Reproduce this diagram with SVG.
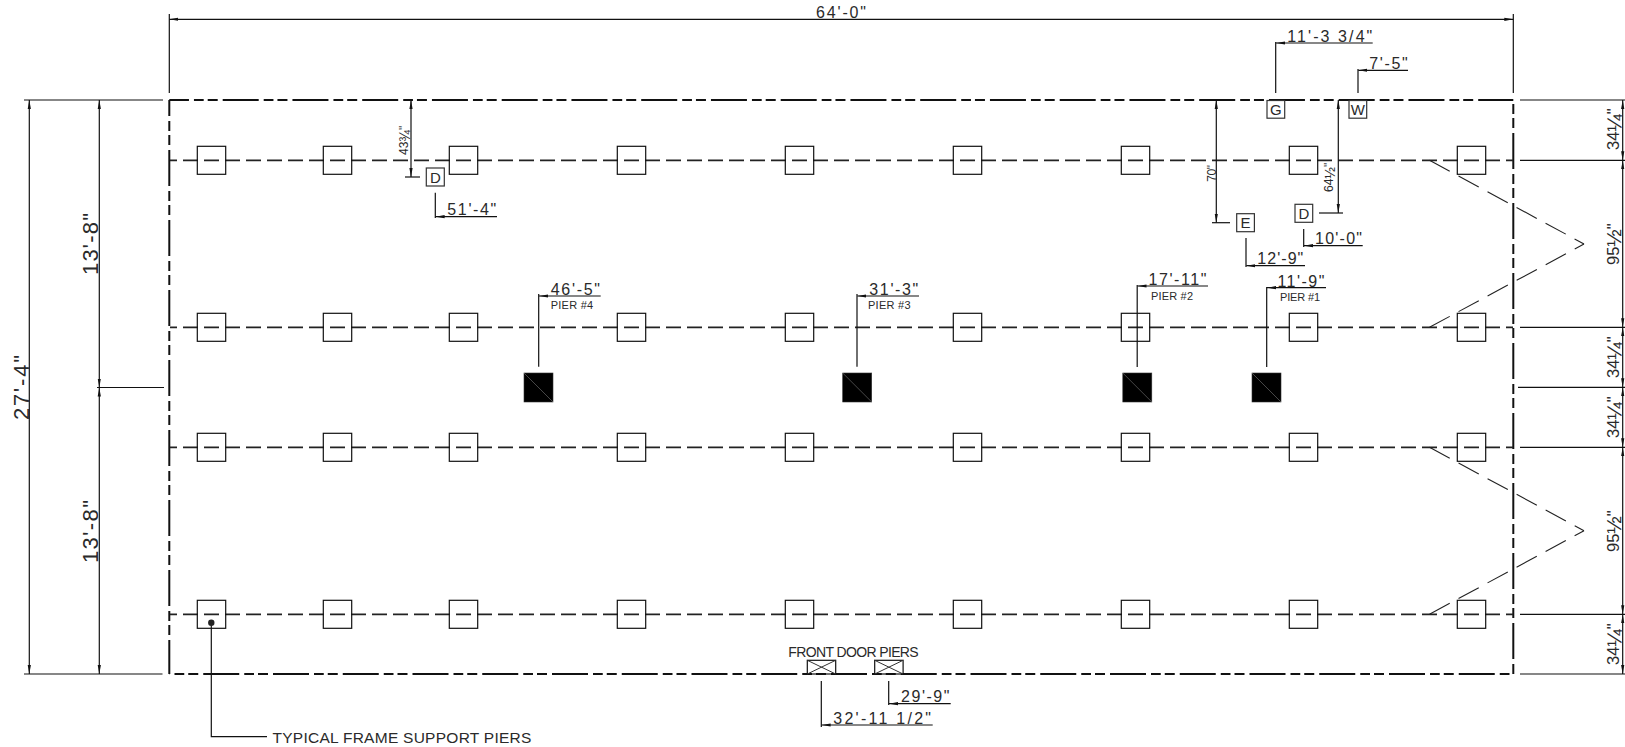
<svg xmlns="http://www.w3.org/2000/svg" width="1625" height="747" viewBox="0 0 1625 747">
<style>
text{font-family:"Liberation Sans",Arial,sans-serif;fill:#2a2a2a}
.a{font-size:16px}.b{font-size:11px}.c{font-size:14px}.d{font-size:22px}.e{font-size:16.5px}.f{font-size:12px}.g{font-size:15px;text-anchor:middle}
.fr{font-size:21px}.fs{font-size:14px}
.l{stroke:#111;stroke-width:1.2;fill:none}
.h{stroke:#333;stroke-width:1;fill:none}
.ar{marker-end:url(#ah)}.ab{marker-start:url(#ah);marker-end:url(#ah)}
.row{stroke:#222;stroke-width:1.7;stroke-dasharray:15 6;fill:none}
.bdh{stroke:#111;stroke-width:2;stroke-dasharray:36 5 9.75 4 10 5;fill:none}
.bdv{stroke:#111;stroke-width:2;stroke-dasharray:36 5 10 4 10 5;fill:none}
.hitch{stroke:#222;stroke-width:1.1;stroke-dasharray:23 10;fill:none}
.p{fill:none;stroke:#111;stroke-width:1.2}
.k{fill:#000;stroke:#333;stroke-width:.6}
.s{fill:#fff;stroke:#333;stroke-width:1.2}
</style>
<defs>
<marker id="ah" markerUnits="userSpaceOnUse" markerWidth="10" markerHeight="4" refX="9" refY="2" orient="auto-start-reverse"><path d="M0,0.4L9,2L0,3.6Z" fill="#111"/></marker>
</defs>
<g id="frame">
<line class="bdh" x1="169.3" y1="100" x2="1513.3" y2="100" stroke-dashoffset="16.35"/>
<line class="bdh" x1="169.3" y1="674" x2="1513.3" y2="674" stroke-dashoffset="35.8"/>
<line class="bdv" x1="169.3" y1="100" x2="169.3" y2="674" stroke-dashoffset="20"/>
<line class="bdv" x1="1513.3" y1="100" x2="1513.3" y2="674" stroke-dashoffset="37"/>
<line class="row" x1="170" y1="160.3" x2="1513" y2="160.3" stroke-dashoffset="8"/>
<line class="row" x1="170" y1="327.3" x2="1513" y2="327.3" stroke-dashoffset="8"/>
<line class="row" x1="170" y1="447.3" x2="1513" y2="447.3" stroke-dashoffset="8"/>
<line class="row" x1="170" y1="614.3" x2="1513" y2="614.3" stroke-dashoffset="8"/>
<path class="hitch" d="M1429.5,160.3L1584,244"/>
<path class="hitch" d="M1429.5,327.3L1584,244"/>
<path class="hitch" d="M1429.5,447.3L1584,530.7"/>
<path class="hitch" d="M1429.5,614.3L1584,530.7"/>
</g>
<g id="connectors">
<path class="l" d="M169.3,14V93M1513.3,14V93"/>
<line class="l ab" x1="169.3" y1="19.3" x2="1513.3" y2="19.3"/>
<path class="l" d="M24,100H163M24,674H162.5M97,387.5H164M1520,160.3H1625M1520,327.3H1625M1518,387.3H1625M1520,447.3H1625M1520,614.3H1625M1520,674H1625M1520,100H1625"/>
<line class="l ab" x1="29.3" y1="100" x2="29.3" y2="674"/>
<line class="l ab" x1="99.3" y1="100" x2="99.3" y2="387.5"/>
<line class="l ab" x1="99.3" y1="387.5" x2="99.3" y2="674"/>
<line class="l ab" x1="1622.7" y1="100" x2="1622.7" y2="160.3"/>
<line class="l ab" x1="1622.7" y1="160.3" x2="1622.7" y2="327.3"/>
<line class="l ab" x1="1622.7" y1="327.3" x2="1622.7" y2="387.3"/>
<line class="l ab" x1="1622.7" y1="387.3" x2="1622.7" y2="447.3"/>
<line class="l ab" x1="1622.7" y1="447.3" x2="1622.7" y2="614.3"/>
<line class="l ab" x1="1622.7" y1="614.3" x2="1622.7" y2="674"/>
<path class="l" d="M1275.7,42V93M1358,69V93"/>
<line class="l ar" x1="1372.7" y1="43" x2="1276" y2="43"/>
<line class="l ar" x1="1408" y1="70.3" x2="1358.3" y2="70.3"/>
<line class="l ab" x1="1216.3" y1="100" x2="1216.3" y2="222.7"/>
<path class="l" d="M1212,222.7H1230"/>
<line class="l ab" x1="1338.3" y1="100" x2="1338.3" y2="213"/>
<path class="l" d="M1319,213H1343"/>
<line class="l ab" x1="411" y1="100" x2="411" y2="177"/>
<path class="l" d="M405,177H420"/>
<path class="l" d="M1303.7,229V247M1246,238V267M435.3,192.7V218"/>
<line class="l ar" x1="1362.7" y1="245.7" x2="1304" y2="245.7"/>
<line class="l ar" x1="1305" y1="265.7" x2="1246.3" y2="265.7"/>
<line class="l ar" x1="497" y1="216.7" x2="435.6" y2="216.7"/>
<path class="l" d="M538.7,294V366.7M857,294V366.7M1137.2,285V367M1266.7,287V367"/>
<line class="l ar" x1="600.7" y1="296" x2="539" y2="296"/>
<line class="l ar" x1="919" y1="296" x2="857.3" y2="296"/>
<line class="l ar" x1="1208" y1="286" x2="1137.5" y2="286"/>
<line class="l ar" x1="1326" y1="287.7" x2="1267" y2="287.7"/>
<path class="l" d="M888.7,681V705M821.3,681V727"/>
<line class="l ar" x1="950.7" y1="703.7" x2="889" y2="703.7"/>
<line class="l ar" x1="932.7" y1="725" x2="821.6" y2="725"/>
<path class="l" d="M211.3,623V736.7H267"/>
<circle cx="211.3" cy="622.7" r="3.2" fill="#222"/>
</g>
<g id="frame-piers">
<g id="p1-1"><rect class="p" x="197.3" y="146.3" width="28.4" height="28"/></g>
<g id="p1-2"><rect class="p" x="323.3" y="146.3" width="28.4" height="28"/></g>
<g id="p1-3"><rect class="p" x="449.3" y="146.3" width="28.4" height="28"/></g>
<g id="p1-4"><rect class="p" x="617.3" y="146.3" width="28.4" height="28"/></g>
<g id="p1-5"><rect class="p" x="785.3" y="146.3" width="28.4" height="28"/></g>
<g id="p1-6"><rect class="p" x="953.3" y="146.3" width="28.4" height="28"/></g>
<g id="p1-7"><rect class="p" x="1121.3" y="146.3" width="28.4" height="28"/></g>
<g id="p1-8"><rect class="p" x="1289.3" y="146.3" width="28.4" height="28"/></g>
<g id="p1-9"><rect class="p" x="1457.3" y="146.3" width="28.4" height="28"/></g>
<g id="p2-1"><rect class="p" x="197.3" y="313.3" width="28.4" height="28"/></g>
<g id="p2-2"><rect class="p" x="323.3" y="313.3" width="28.4" height="28"/></g>
<g id="p2-3"><rect class="p" x="449.3" y="313.3" width="28.4" height="28"/></g>
<g id="p2-4"><rect class="p" x="617.3" y="313.3" width="28.4" height="28"/></g>
<g id="p2-5"><rect class="p" x="785.3" y="313.3" width="28.4" height="28"/></g>
<g id="p2-6"><rect class="p" x="953.3" y="313.3" width="28.4" height="28"/></g>
<g id="p2-7"><rect class="p" x="1121.3" y="313.3" width="28.4" height="28"/></g>
<g id="p2-8"><rect class="p" x="1289.3" y="313.3" width="28.4" height="28"/></g>
<g id="p2-9"><rect class="p" x="1457.3" y="313.3" width="28.4" height="28"/></g>
<g id="p3-1"><rect class="p" x="197.3" y="433.3" width="28.4" height="28"/></g>
<g id="p3-2"><rect class="p" x="323.3" y="433.3" width="28.4" height="28"/></g>
<g id="p3-3"><rect class="p" x="449.3" y="433.3" width="28.4" height="28"/></g>
<g id="p3-4"><rect class="p" x="617.3" y="433.3" width="28.4" height="28"/></g>
<g id="p3-5"><rect class="p" x="785.3" y="433.3" width="28.4" height="28"/></g>
<g id="p3-6"><rect class="p" x="953.3" y="433.3" width="28.4" height="28"/></g>
<g id="p3-7"><rect class="p" x="1121.3" y="433.3" width="28.4" height="28"/></g>
<g id="p3-8"><rect class="p" x="1289.3" y="433.3" width="28.4" height="28"/></g>
<g id="p3-9"><rect class="p" x="1457.3" y="433.3" width="28.4" height="28"/></g>
<g id="p4-1"><rect class="p" x="197.3" y="600.3" width="28.4" height="28"/></g>
<g id="p4-2"><rect class="p" x="323.3" y="600.3" width="28.4" height="28"/></g>
<g id="p4-3"><rect class="p" x="449.3" y="600.3" width="28.4" height="28"/></g>
<g id="p4-4"><rect class="p" x="617.3" y="600.3" width="28.4" height="28"/></g>
<g id="p4-5"><rect class="p" x="785.3" y="600.3" width="28.4" height="28"/></g>
<g id="p4-6"><rect class="p" x="953.3" y="600.3" width="28.4" height="28"/></g>
<g id="p4-7"><rect class="p" x="1121.3" y="600.3" width="28.4" height="28"/></g>
<g id="p4-8"><rect class="p" x="1289.3" y="600.3" width="28.4" height="28"/></g>
<g id="p4-9"><rect class="p" x="1457.3" y="600.3" width="28.4" height="28"/></g>
</g>
<g id="center-piers">
<g id="pier4"><rect class="k" x="524" y="373" width="29" height="29"/><line x1="524" y1="373" x2="553" y2="402" stroke="#777" stroke-width=".6"/></g>
<g id="pier3"><rect class="k" x="842.7" y="373" width="29" height="29"/><line x1="842.7" y1="373" x2="871.7" y2="402" stroke="#777" stroke-width=".6"/></g>
<g id="pier2"><rect class="k" x="1122.8" y="373" width="29" height="29"/><line x1="1122.8" y1="373" x2="1151.8" y2="402" stroke="#777" stroke-width=".6"/></g>
<g id="pier1"><rect class="k" x="1252" y="373" width="29" height="29"/><line x1="1252" y1="373" x2="1281" y2="402" stroke="#777" stroke-width=".6"/></g>
</g>
<g id="door-piers">
<g id="door1"><rect class="p" x="807.3" y="660.3" width="28.4" height="13.7"/><path class="h" d="M807.3,660.3L835.7,674M835.7,660.3L807.3,674"/></g>
<g id="door2"><rect class="p" x="874.7" y="660.3" width="28.4" height="13.7"/><path class="h" d="M874.7,660.3L903.1,674M903.1,660.3L874.7,674"/></g>
</g>
<g id="symbols">
<g id="G"><rect class="s" x="1267" y="100.5" width="17.7" height="17.7"/><text class="g" x="1275.8" y="115">G</text></g>
<g id="W"><rect class="s" x="1349" y="100.5" width="17.7" height="17.7"/><text class="g" x="1357.8" y="115">W</text></g>
<g id="D2"><rect class="s" x="1295" y="204.3" width="17.7" height="18"/><text class="g" x="1303.8" y="219">D</text></g>
<g id="E"><rect class="s" x="1236.7" y="213.7" width="17.7" height="18"/><text class="g" x="1245.5" y="228.4">E</text></g>
<g id="D1"><rect class="s" x="426.3" y="168" width="18" height="18"/><text class="g" x="435.3" y="182.7">D</text></g>
</g>
<g id="labels">
<text class="a" x="816" y="17.5" textLength="50">64'-0"</text>
<text class="a" x="1287.3" y="41.8" textLength="85">11'-3 3/4"</text>
<text class="a" x="1369.3" y="69" textLength="38.5">7'-5"</text>
<text class="a" x="1315" y="244.3" textLength="47">10'-0"</text>
<text class="a" x="1257.3" y="264.3" textLength="46">12'-9"</text>
<text class="a" x="447.3" y="215" textLength="49">51'-4"</text>
<text class="a" x="550.7" y="295" textLength="49.3">46'-5"</text>
<text class="a" x="869.3" y="295" textLength="49">31'-3"</text>
<text class="a" x="1148.5" y="285" textLength="58">17'-11"</text>
<text class="a" x="1277.4" y="286.7" textLength="47">11'-9"</text>
<text class="b" x="550.7" y="309" textLength="42.5">PIER #4</text>
<text class="b" x="868" y="309" textLength="42.5">PIER #3</text>
<text class="b" x="1151" y="300" textLength="42">PIER #2</text>
<text class="b" x="1280" y="301" textLength="40">PIER #1</text>
<text class="c" x="788.3" y="657.3" textLength="130.4">FRONT DOOR PIERS</text>
<text class="a" x="901" y="702" textLength="48.5">29'-9"</text>
<text class="a" x="833.3" y="724" textLength="97.7">32'-11 1/2"</text>
<text class="c" x="272.5" y="743" textLength="258.9" style="font-size:15.5px">TYPICAL FRAME SUPPORT PIERS</text>
<text class="d" transform="translate(98 275) rotate(-90)" textLength="62">13'-8"</text>
<text class="d" transform="translate(98 563) rotate(-90)" textLength="63">13'-8"</text>
<text class="d" transform="translate(29 420) rotate(-90)" textLength="65">27'-4"</text>
<text class="f" transform="translate(1215.7 181.7) rotate(-90)" textLength="16.7">70"</text>
<text class="f" transform="translate(1333 192) rotate(-90)">64<tspan class="fs" dy="1.5">½</tspan><tspan dy="-1.5">"</tspan></text>
<text class="f" transform="translate(408 155) rotate(-90)">43<tspan class="fs" dy="1.5">¾</tspan><tspan dy="-1.5">"</tspan></text>
<text class="e" transform="translate(1619 150) rotate(-90)">34<tspan class="fr" dy="2">¼</tspan><tspan dy="-2">"</tspan></text>
<text class="e" transform="translate(1619 265) rotate(-90)">95<tspan class="fr" dy="2">½</tspan><tspan dy="-2">"</tspan></text>
<text class="e" transform="translate(1619 378) rotate(-90)">34<tspan class="fr" dy="2">¼</tspan><tspan dy="-2">"</tspan></text>
<text class="e" transform="translate(1619 438) rotate(-90)">34<tspan class="fr" dy="2">¼</tspan><tspan dy="-2">"</tspan></text>
<text class="e" transform="translate(1619 552) rotate(-90)">95<tspan class="fr" dy="2">½</tspan><tspan dy="-2">"</tspan></text>
<text class="e" transform="translate(1619 665) rotate(-90)">34<tspan class="fr" dy="2">¼</tspan><tspan dy="-2">"</tspan></text>
</g>
</svg>
